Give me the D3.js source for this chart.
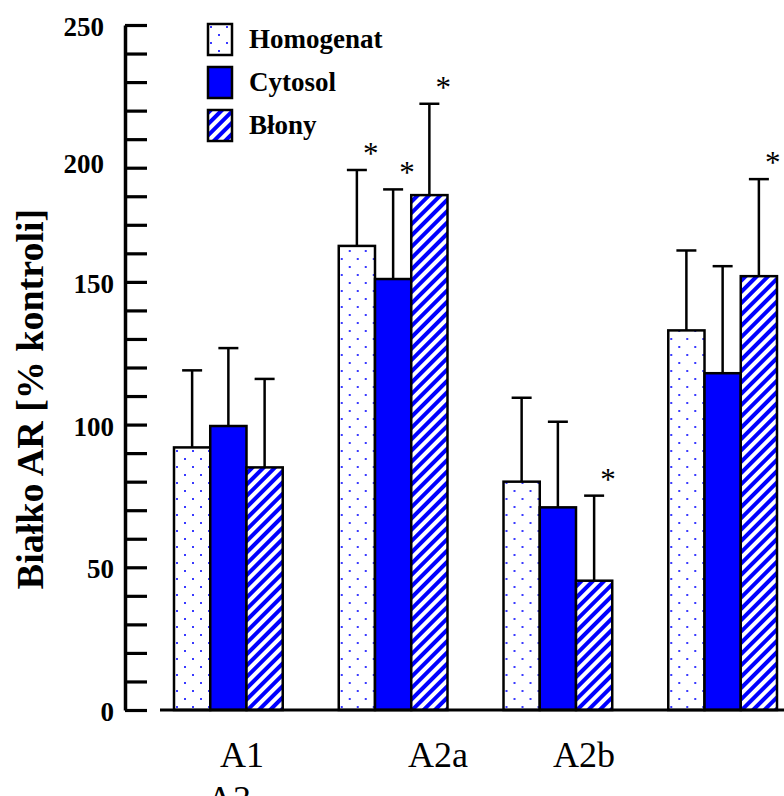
<!DOCTYPE html>
<html>
<head>
<meta charset="utf-8">
<script src="https://cdn.jsdelivr.net/npm/d3@7"></script>
<style>
  body { margin: 0; background: #fff; }
  svg { display: block; }
</style>
</head>
<body>
<script>

// data
var categories = ["A1", "A2a", "A2b", "A3"];
var series = ["Homogenat", "Cytosol", "Błony"];

var homogenat = [92, 162.6, 80, 133];
var cytosol = [99.5, 151, 71, 118];
var blony = [85, 180.4, 45.3, 152];

var homogenatErr = [27, 26.6, 29.4, 28];
var cytosolErr = [27.3, 31.4, 30, 37.5];
var blonyErr = [31, 32, 29.8, 34];

// 1 = marked with an asterisk
var homogenatSig = [0, 1, 0, 0];
var cytosolSig = [0, 1, 0, 0];
var blonySig = [0, 1, 1, 1];

var yTickValues = d3.range(0, 241, 10);
var yLabelValues = [0, 50, 100, 150, 192, 240];
var yLabelTexts = ["0", "50", "100", "150", "200", "250"];

var w = 784, h = 796;
var serif = "'Liberation Serif', 'Times New Roman', serif";

var svg = d3.select("body")
  .append("svg")
  .attr("width", w)
  .attr("height", h);

var defs = svg.append("defs");

// dotted fill for Homogenat
var dots = defs.append("pattern")
  .attr("id", "dots")
  .attr("patternUnits", "userSpaceOnUse")
  .attr("width", 16)
  .attr("height", 16);
dots.append("rect").attr("width", 16).attr("height", 16).attr("fill", "#fff");
dots.append("rect").attr("x", 2).attr("y", 2).attr("width", 2).attr("height", 2).attr("fill", "#3a3aff");
dots.append("rect").attr("x", 10).attr("y", 10).attr("width", 2).attr("height", 2).attr("fill", "#3a3aff");

// diagonal stripes for Błony
var stripes = defs.append("pattern")
  .attr("id", "stripes")
  .attr("patternUnits", "userSpaceOnUse")
  .attr("width", 8)
  .attr("height", 8)
  .attr("patternTransform", "rotate(45)");
stripes.append("rect").attr("width", 8).attr("height", 8).attr("fill", "#fff");
stripes.append("rect").attr("width", 4).attr("height", 8).attr("fill", "#0000ff");

var fills = ["url(#dots)", "#0000ff", "url(#stripes)"];

var rows = categories.map(function (c, i) {
  return {
    cat: c,
    bars: [
      { s: series[0], v: homogenat[i], e: homogenatErr[i], sig: homogenatSig[i] },
      { s: series[1], v: cytosol[i], e: cytosolErr[i], sig: cytosolSig[i] },
      { s: series[2], v: blony[i], e: blonyErr[i], sig: blonySig[i] }
    ]
  };
});

var y = d3.scaleLinear()
  .domain([0, 240])
  .range([710, 25]);

var x0 = d3.scaleBand()
  .domain(categories)
  .range([174, 777])
  .paddingInner(0.34);

var x1 = d3.scaleBand()
  .domain(series)
  .range([0, x0.bandwidth()]);

var color = d3.scaleOrdinal().domain(series).range(fills);

// bars
var groups = svg.selectAll("g.group")
  .data(rows)
  .enter()
  .append("g")
  .attr("class", "group")
  .attr("transform", d => `translate(${x0(d.cat)},0)`);

var bar = groups.selectAll("g.bar")
  .data(d => d.bars)
  .enter()
  .append("g")
  .attr("class", "bar");

// error bars (behind the bars)
bar.append("line")
  .attr("x1", d => x1(d.s) + x1.bandwidth() / 2)
  .attr("x2", d => x1(d.s) + x1.bandwidth() / 2)
  .attr("y1", d => y(d.v))
  .attr("y2", d => y(d.v + d.e))
  .attr("stroke", "#000")
  .attr("stroke-width", 2.5);

bar.append("line")
  .attr("x1", d => x1(d.s) + x1.bandwidth() / 2 - 10)
  .attr("x2", d => x1(d.s) + x1.bandwidth() / 2 + 10)
  .attr("y1", d => y(d.v + d.e))
  .attr("y2", d => y(d.v + d.e))
  .attr("stroke", "#000")
  .attr("stroke-width", 2.5);

bar.append("rect")
  .attr("x", d => x1(d.s))
  .attr("y", d => y(d.v))
  .attr("width", x1.bandwidth())
  .attr("height", d => y(0) - y(d.v))
  .attr("fill", d => color(d.s))
  .attr("stroke", "#000")
  .attr("stroke-width", 2.5);

bar.filter(d => d.sig)
  .append("text")
  .text("*")
  .attr("x", d => x1(d.s) + x1.bandwidth() / 2 + 14)
  .attr("y", d => y(d.v + d.e) - 6)
  .attr("text-anchor", "middle")
  .attr("font-family", serif)
  .attr("font-size", "31px");

// y axis
var yAxis = d3.axisLeft(y)
  .tickValues(yTickValues)
  .tickSize(-22)
  .tickSizeOuter(0)
  .tickFormat("");

var ya = svg.append("g")
  .attr("transform", "translate(125,0)")
  .call(yAxis);
ya.select(".domain").attr("stroke-width", 3.5);
ya.selectAll(".tick line").attr("stroke-width", 3.2);

var labelShift = [0, 0, 0, 0, -10, -10];
svg.append("g").selectAll("text")
  .data(yLabelValues)
  .enter()
  .append("text")
  .text((d, i) => yLabelTexts[i])
  .attr("x", (d, i) => 114 + labelShift[i])
  .attr("y", d => y(d))
  .attr("dy", "0.41em")
  .attr("text-anchor", "end")
  .attr("font-family", serif)
  .attr("font-weight", "bold")
  .attr("font-size", "27px");

// baseline
svg.append("line")
  .attr("x1", 160)
  .attr("x2", w)
  .attr("y1", y(0))
  .attr("y2", y(0))
  .attr("stroke", "#000")
  .attr("stroke-width", 3.2);

// y title
svg.append("text")
  .text("Białko AR [% kontroli]")
  .attr("transform", "translate(43,399) rotate(-90)")
  .attr("text-anchor", "middle")
  .attr("font-family", serif)
  .attr("font-weight", "bold")
  .attr("font-size", "38px");

// category labels (the last one wraps to a second line in the original)
var catLabelX = [220, 408, 553, 207];
var catLabelY = [767, 767, 767, 811];
svg.append("g").selectAll("text")
  .data(categories)
  .enter()
  .append("text")
  .text(d => d)
  .attr("x", (d, i) => catLabelX[i])
  .attr("y", (d, i) => catLabelY[i])
  .attr("font-family", serif)
  .attr("font-size", "36px");

// legend
var legend = svg.append("g")
  .attr("transform", "translate(208,24)");

var item = legend.selectAll("g")
  .data(series)
  .enter()
  .append("g")
  .attr("transform", (d, i) => `translate(0, ${i * 43})`);

item.append("rect")
  .attr("width", 24)
  .attr("height", 31)
  .attr("fill", d => color(d))
  .attr("stroke", "#000")
  .attr("stroke-width", 2.5);

item.append("text")
  .text(d => d)
  .attr("x", 41)
  .attr("y", 24)
  .attr("font-family", serif)
  .attr("font-weight", "bold")
  .attr("font-size", "27px");

</script>
</body>
</html>
